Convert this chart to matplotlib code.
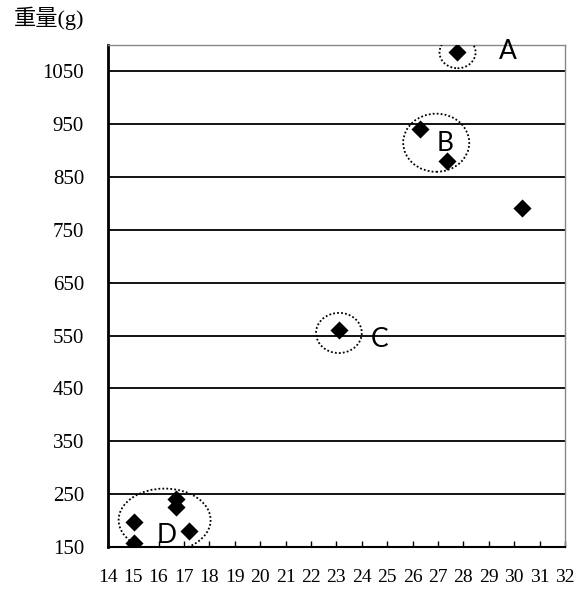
import matplotlib
matplotlib.use("Agg")
import matplotlib.pyplot as plt
from matplotlib.patches import Ellipse

# Data
lengths = [27.75, 26.3, 27.35, 30.3, 23.1, 15.05, 15.05, 16.7, 16.7, 17.2]
weights = [1086, 941, 880, 791, 560, 198, 158, 240, 226, 180]

x_ticks = list(range(14, 33))
y_ticks = list(range(150, 1051, 100))
y_label = "重量(g)"

groups = ["A", "B", "C", "D"]
group_centers = [(27.77, 1086), (26.93, 915), (23.1, 555), (16.24, 201)]
group_sizes = [(1.42, 60), (2.6, 110), (1.8, 76), (3.62, 119)]
label_pos = [(29.75, 1088), (27.29, 914), (24.7, 543), (16.3, 172)]

fig = plt.figure(figsize=(5.86, 5.91), dpi=100)
ax = fig.add_axes([0.1838, 0.0745, 0.9642 - 0.1838, 0.9239 - 0.0745])

ax.set_xlim(14, 32)
ax.set_ylim(150, 1100)
ax.set_xticks(x_ticks)
ax.set_yticks(y_ticks)

for y in y_ticks:
    ax.axhline(y, color="black", lw=1.3, zorder=1)

ax.scatter(lengths, weights, marker="D", s=85, color="black", zorder=3, linewidths=0)

for g, c, s, lp in zip(groups, group_centers, group_sizes, label_pos):
    e = Ellipse(c, s[0], s[1], fill=False, edgecolor="black", lw=1.3,
                linestyle=(0, (1, 1.2)), zorder=4)
    ax.add_patch(e)
    ax.text(lp[0], lp[1], g, fontsize=19, family="Lato",
            ha="center", va="center", zorder=5)

serif = ["Liberation Serif", "Noto Sans CJK JP"]
ax.set_xticklabels([str(t) for t in x_ticks], family=serif, fontsize=14)
ax.set_yticklabels([str(t) for t in y_ticks], family=serif, fontsize=15)
ax.tick_params(axis="x", direction="in", length=4, width=1, pad=16)
ax.tick_params(axis="y", direction="out", length=0, pad=17)

ax.spines["left"].set_linewidth(2)
ax.spines["bottom"].set_linewidth(1.5)
for sp in ["top", "right"]:
    ax.spines[sp].set_color("#888888")
    ax.spines[sp].set_linewidth(1)

fig.text(49 / 586, 1 - 18 / 591, y_label, family=serif, fontsize=16, ha="center", va="center")

fig.savefig("out.png", dpi=100)
